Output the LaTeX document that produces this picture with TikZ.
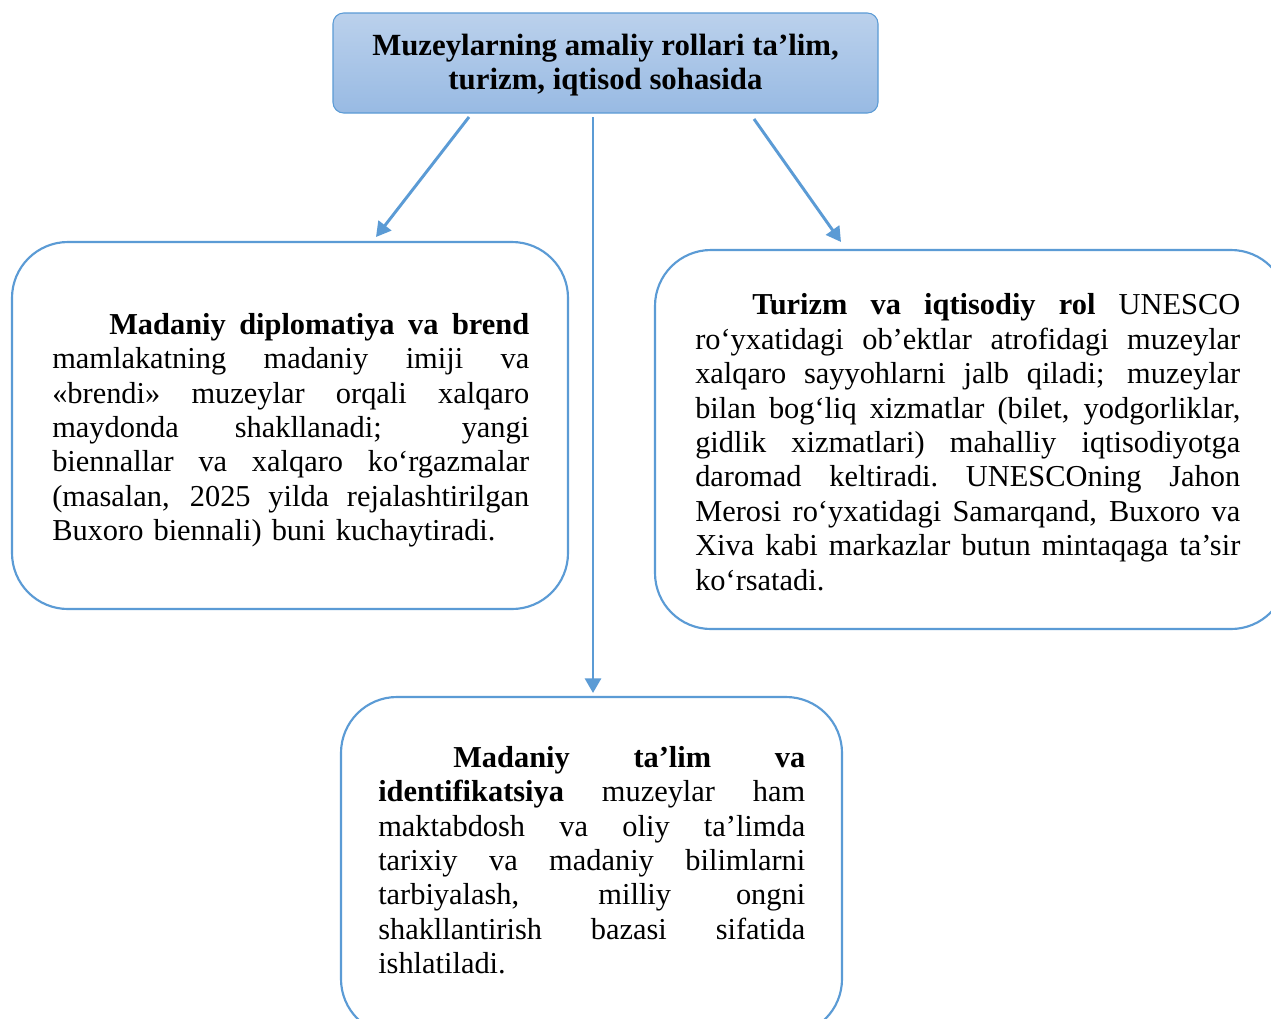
\documentclass[tikz,border=0pt]{standalone}
\usepackage{fontspec}
\setmainfont{Liberation Serif}
\usepackage{graphicx}
\usetikzlibrary{arrows.meta}
\definecolor{bord}{HTML}{5B9BD5}
\definecolor{topc}{HTML}{BBD1EC}
\definecolor{botc}{HTML}{98BAE3}
\newlength\TW \newlength\TWi \newlength\IND
\newcommand\setTW[2]{\setlength\TW{#1}\setlength\IND{#2}\setlength\TWi{\dimexpr#1-#2\relax}\parindent=0pt\parskip=0pt}
\newcommand\JLbox[2]{\sbox0{#2}\ifdim\wd0>#1\relax\resizebox{#1}{\height}{#2}\else\hbox to #1{\spaceskip=0.25em plus 20em minus 0.05em\xspaceskip=\spaceskip #2}\fi}
\newcommand\FL[1]{\noindent\strut\hspace*{\IND}\JLbox{\TWi}{#1}\par}
\newcommand\JL[1]{\noindent\JLbox{\TW}{#1}\par}
\newcommand\LL[1]{\noindent #1\par}
\tikzset{
  card/.style={draw=bord, line width=1.6pt, rounded corners=42pt, fill=white, inner sep=0pt},
  txt/.style={anchor=north west, inner sep=0pt, font=\fontsize{22.8}{25.8}\selectfont},
  arr/.style={draw=bord, line width=2.2pt, -{Triangle[length=11pt,width=12pt]}},
}
\begin{document}
\begin{tikzpicture}[x=0.75pt,y=-0.75pt]
\path[use as bounding box] (0,0) rectangle (1271,1018);
\clip (0,0) rectangle (1271,1018);
\fill[white] (0,0) rectangle (1271,1018);
% top box
\node[draw=bord, line width=0.8pt, rounded corners=8pt, top color=topc, bottom color=botc,
  minimum width=408.75pt, minimum height=75pt, inner sep=0pt] (top) at (605.5,63) {};
\node[align=center, inner sep=0pt, font=\fontsize{23.1}{25}\selectfont\bfseries] (toptext) at (605.5,65)
  {Muzeylarning amaliy rollari ta’lim,\\turizm, iqtisod sohasida};
% boxes
\node[card, minimum width=417pt, minimum height=275.25pt] (left) at (290,425.5) {};
\node[card, minimum width=474pt, minimum height=284.25pt] (right) at (971,439.5) {};
\node[card, minimum width=375.75pt, minimum height=253.5pt] (bottom) at (591.5,866) {};
% texts
\node[txt, text width=357.75pt] (lefttext) at (52,309.9) {\setTW{357.75pt}{42.75pt}%
\FL{\textbf{Madaniy diplomatiya va brend}}
\JL{mamlakatning madaniy imiji va}
\JL{«brendi» muzeylar orqali xalqaro}
\JL{maydonda shakllanadi; yangi}
\JL{biennallar va xalqaro ko‘rgazmalar}
\JL{(masalan, 2025 yilda rejalashtirilgan}
\LL{Buxoro biennali) buni kuchaytiradi.}};
\node[txt, text width=408.75pt] (righttext) at (695,290.6) {\setTW{408.75pt}{42.75pt}%
\FL{\textbf{Turizm va iqtisodiy rol} UNESCO}
\JL{ro‘yxatidagi ob’ektlar atrofidagi muzeylar}
\JL{xalqaro sayyohlarni jalb qiladi; muzeylar}
\JL{bilan bog‘liq xizmatlar (bilet, yodgorliklar,}
\JL{gidlik xizmatlari) mahalliy iqtisodiyotga}
\JL{daromad keltiradi. UNESCOning Jahon}
\JL{Merosi ro‘yxatidagi Samarqand, Buxoro va}
\JL{Xiva kabi markazlar butun mintaqaga ta’sir}
\LL{ko‘rsatadi.}};
\node[txt, text width=320.25pt] (bottomtext) at (378,742.9) {\setTW{320.25pt}{56.25pt}%
\FL{\textbf{Madaniy ta’lim va}}
\JL{\textbf{identifikatsiya} muzeylar ham}
\JL{maktabdosh va oliy ta’limda}
\JL{tarixiy va madaniy bilimlarni}
\JL{tarbiyalash, milliy ongni}
\JL{shakllantirish bazasi sifatida}
\LL{ishlatiladi.}};
% arrows
\coordinate (a1s) at (469,117);
\coordinate (a1e) at (376,237);
\coordinate (a2s) at (593,117);
\coordinate (a2e) at (593,693);
\coordinate (a3s) at (754,119);
\coordinate (a3e) at (841,242);
\draw[arr] (a1s) -- (a1e);
\draw[arr] (a2s) -- (a2e);
\draw[arr] (a3s) -- (a3e);
\end{tikzpicture}
\end{document}
